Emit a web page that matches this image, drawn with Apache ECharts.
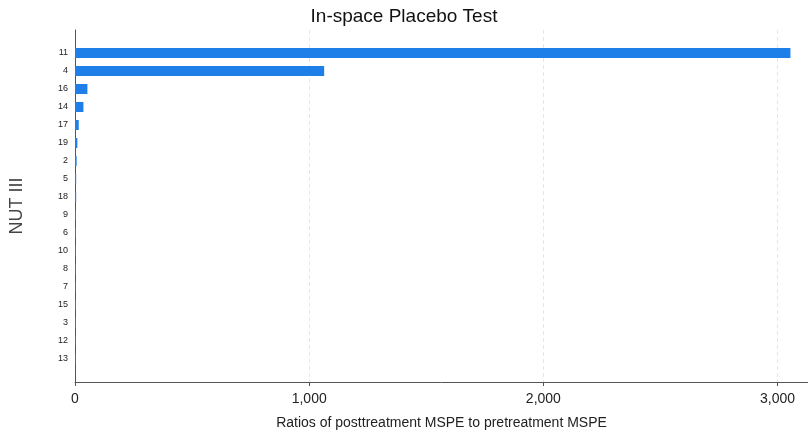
<!DOCTYPE html>
<html>
<head>
<meta charset="utf-8">
<script src="https://cdn.jsdelivr.net/npm/echarts@6/dist/echarts.min.js"></script>
<style>
  html, body { margin: 0; padding: 0; background: #fff; }
  #chart { width: 808px; height: 432px; }
</style>
</head>
<body>
<div id="chart"></div>
<script>
// Regions (NUT III), sorted by post/pre MSPE ratio, largest first
const regions = ['11', '4', '16', '14', '17', '19', '2', '5', '18', '9', '6', '10', '8', '7', '15', '3', '12', '13'];
const mspeRatio = [3055, 1064, 53, 36, 16, 10, 7, 5, 5, 4, 4, 4, 4, 3, 4, 4, 3, 3];
const xTicks = [0, 1000, 2000, 3000];

const X_MAX = 3130;
const font = 'Liberation Sans, Arial, Helvetica, sans-serif';

const chart = echarts.init(document.getElementById('chart'));
chart.setOption({
  animation: false,
  backgroundColor: '#fff',
  title: {
    text: 'In-space Placebo Test',
    left: 'center',
    top: 2,
    textStyle: { fontFamily: font, fontSize: 19, fontWeight: 'normal', color: '#111' }
  },
  grid: [
    // frame: axes and gridlines
    { left: 75, right: 0, top: 30, bottom: 50, outerBoundsMode: 'none', containLabel: false },
    // bars, inset from the frame top and bottom
    { left: 75, right: 0, top: 44, bottom: 64, outerBoundsMode: 'none', containLabel: false }
  ],
  xAxis: [
    {
      gridIndex: 0,
      type: 'value',
      min: 0,
      max: X_MAX,
      interval: 1000,
      name: 'Ratios of posttreatment MSPE to pretreatment MSPE',
      nameLocation: 'middle',
      nameGap: 34,
      nameTextStyle: { fontFamily: font, fontSize: 14, color: '#222' },
      axisLine: { show: true, lineStyle: { color: '#555', width: 1 } },
      axisTick: { show: true, length: 4, lineStyle: { color: '#555' },
        customValues: xTicks },
      axisLabel: {
        fontFamily: font, fontSize: 14, color: '#222', margin: 10,
        customValues: xTicks,
        formatter: v => v.toLocaleString('en-US')
      },
      splitLine: { show: true, lineStyle: { color: '#e6e6e6', type: [4, 3], width: 1 } }
    },
    {
      gridIndex: 1,
      type: 'value',
      min: 0,
      max: X_MAX,
      show: false,
      splitLine: { show: false }
    }
  ],
  yAxis: [
    {
      gridIndex: 0,
      type: 'value',
      min: 0,
      max: 1,
      name: 'NUT III',
      nameLocation: 'middle',
      nameGap: 49,
      nameRotate: 90,
      nameTextStyle: { fontFamily: font, fontSize: 18, color: '#444' },
      axisLine: { show: true, lineStyle: { color: '#555', width: 1 } },
      axisTick: { show: false },
      axisLabel: { show: false },
      splitLine: { show: false }
    },
    {
      gridIndex: 1,
      type: 'category',
      data: regions,
      inverse: true,
      axisLine: { show: false },
      axisTick: { show: false },
      axisLabel: { fontFamily: font, fontSize: 9, color: '#222', margin: 7 }
    }
  ],
  series: [
    {
      type: 'bar',
      xAxisIndex: 1,
      yAxisIndex: 1,
      data: mspeRatio,
      barWidth: 10,
      itemStyle: { color: '#1f7fe8' }
    }
  ]
});
</script>
</body>
</html>
